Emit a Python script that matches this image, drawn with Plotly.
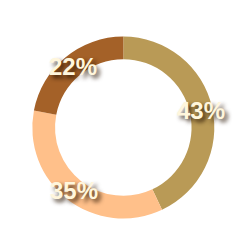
import math
import plotly.graph_objects as go

labels = ["A", "B", "C"]
values = [43, 35, 22]
colors = ["#b99a56", "#ffc08a", "#a46128"]

cx, cy, R = 123.3, 122.5, 91.0  # px from bottom-left
W = H = 250
hole = 0.75

fig = go.Figure(go.Pie(
    labels=labels, values=values, hole=hole, sort=False, direction="clockwise",
    rotation=0, marker=dict(colors=colors, line=dict(width=0)),
    textinfo="none", hoverinfo="none", showlegend=False,
    domain=dict(x=[(cx - R) / W, (cx + R) / W], y=[(cy - R) / H, (cy + R) / H]),
))

total = sum(values)
rmid = R * (1 + hole) / 2
acc = 0
ann = []
for v in values:
    mid = (acc + v / 2) / total * 2 * math.pi
    acc += v
    x = cx + rmid * math.sin(mid)
    y = cy + rmid * math.cos(mid)
    ann.append(dict(
        x=x / W, y=y / H, xref="paper", yref="paper", showarrow=False,
        text=f"{round(v / total * 100)}%",
        font=dict(family="Liberation Sans", size=24, color="#fff6dc", weight="bold",
                  shadow="3px 3px 4px rgba(40,20,0,0.85)"),
        xanchor="center", yanchor="middle",
    ))

fig.update_layout(width=W, height=H, margin=dict(l=0, r=0, t=0, b=0),
                  paper_bgcolor="white", plot_bgcolor="white", annotations=ann)
fig.write_html("out.html")
